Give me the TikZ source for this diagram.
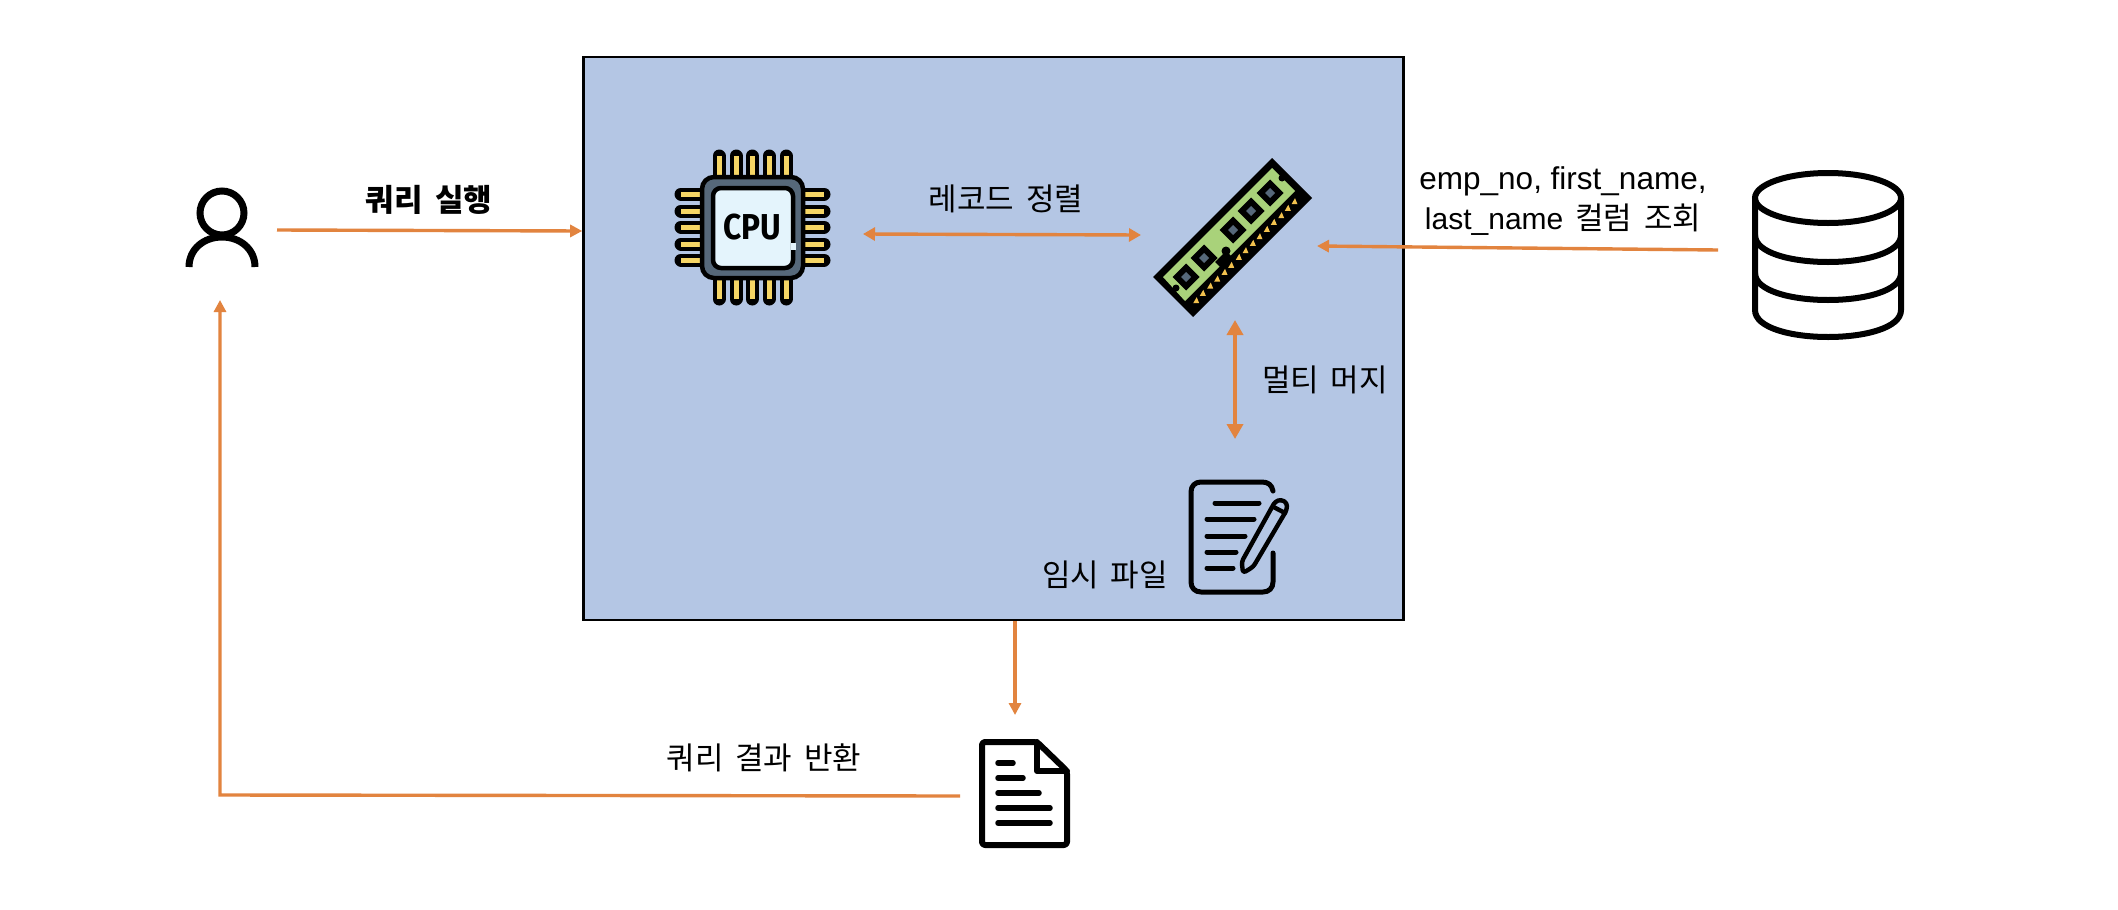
\documentclass[tikz,border=0pt]{standalone}
\usepackage{fontspec}
\setmainfont[WordSpace=1.7]{Noto Sans CJK KR}
\newfontfamily\cpufont[FakeStretch=0.88]{Fira Sans}
\newfontfamily\latinfont{Liberation Sans}
\usetikzlibrary{arrows.meta}
\definecolor{flow}{HTML}{E2843F}
\definecolor{boxfill}{HTML}{B4C6E4}
\definecolor{pinyellow}{HTML}{F5D565}
\definecolor{chipslate}{HTML}{56687A}
\definecolor{chipface}{HTML}{E4F4FC}
\definecolor{ramgreen}{HTML}{A9D27A}
\definecolor{ramgold}{HTML}{F2C14E}
\tikzset{
  x=1pt,y=-1pt,
  flowline/.style={draw=flow,line width=3.4pt,-{Triangle[length=12pt,width=12pt]}},
  flowboth/.style={draw=flow,line width=3.4pt,{Triangle[length=12pt,width=13pt]}-{Triangle[length=12pt,width=13pt]}},
  flowbig/.style={draw=flow,line width=3.6pt,{Triangle[length=15pt,width=16pt]}-{Triangle[length=15pt,width=16pt]}},
  iconspot/.style={inner sep=0pt,outer sep=0pt,minimum width=#1},
  lbl/.style={inner sep=0pt,align=center,font=\fontsize{31}{39}\selectfont},
  ink/.style={draw=black,line width=#1,line cap=round,line join=round},
  pin/.style={draw=black,line width=13pt,line cap=round},
  pinin/.style={draw=pinyellow,line width=5pt},
}
\begin{document}
\begin{tikzpicture}
\useasboundingbox (0,0) rectangle (2118,910);
\fill[white] (0,0) rectangle (2118,910);

% main box
\node[draw=black,line width=2.6pt,fill=boxfill,inner sep=0pt,minimum width=820pt,minimum height=563pt] (box) at (993.5,338.5) {};

% anchor nodes of the icons
\node[iconspot=120pt,minimum height=140pt] (user) at (217,230) {};
\node[iconspot=222pt,minimum height=170pt] (cpu) at (752,235) {};
\node[iconspot=176pt,minimum height=170pt] (ram) at (1229,235) {};
\node[iconspot=100pt,minimum height=116pt] (tmp) at (1235,497) {};
\node[iconspot=110pt,minimum height=160pt] (doc) at (1015,795) {};
\node[iconspot=36pt,minimum height=166pt] (db) at (1736,253) {};

% user
\draw[black,line width=7pt] (222,213) circle[radius=22pt];
\draw[black,line width=7pt] (189,267) .. controls (189,249) and (204,237) .. (222,237) .. controls (240,237) and (255,249) .. (255,267);

% CPU
\foreach \p in {719,736,752,769,786}{
  \draw[pin] (\p,156) -- (\p,178);
  \draw[pin] (\p,299) -- (\p,277);
  \draw[pinin] (\p,156) -- (\p,178);
  \draw[pinin] (\p,299) -- (\p,277);
}
\foreach \p in {194,211,227,244,260}{
  \draw[pin] (681,\p) -- (703,\p);
  \draw[pin] (824,\p) -- (802,\p);
  \draw[pinin] (681,\p) -- (703,\p);
  \draw[pinin] (824,\p) -- (802,\p);
}
\draw[black,line width=4.5pt,fill=chipslate,rounded corners=12pt] (702,177) rectangle (803,278);
\draw[black,line width=4.5pt,fill=chipface,rounded corners=8pt] (713,188) rectangle (793,268);
\fill[chipface] (790.5,243) rectangle (795.5,250);
\node[inner sep=0pt,font=\cpufont\bfseries\fontsize{36}{36}\selectfont] (cpulabel) at (752.5,227) {CPU};

% RAM
\fill[black] (1272,158) -- (1312,198) -- (1193,317) -- (1153,277) -- cycle;
\fill[ramgreen] (1272,168) -- (1295,191) -- (1185,301) -- (1163,277) -- cycle;
\fill[black] (1282,178) circle[radius=3.5pt] (1176,288) circle[radius=3.5pt] (1226,251) circle[radius=4.5pt];
\fill[black] (1226,251) -- (1233,258) -- (1222,269) -- (1215,262) -- cycle;
\foreach \cx/\cy in {1270/193,1251/211,1233/230,1204/258,1186/277}{
  \fill[black] (\cx,\cy-13.5) -- (\cx+13.5,\cy) -- (\cx,\cy+13.5) -- (\cx-13.5,\cy) -- cycle;
  \fill[chipslate] (\cx,\cy-5) -- (\cx+5,\cy) -- (\cx,\cy+5) -- (\cx-5,\cy) -- cycle;
}
\foreach \tx/\ty in {1295/201.7,1288.3/208.3,1281.7/215.7,1274.3/222.3,1267.3/229.3,1260/236.7,1253.3/243.3,1246/250.7,1239.3/257.3,1231.7/265.3,1225/272.3,1217.7/279,1210.7/286,1203.3/293.3,1196.7/300.7}{
  \fill[ramgold] (\tx,\ty-3.5) -- (\tx+2.5,\ty+2.5) -- (\tx-3.5,\ty+2.5) -- cycle;
}

% temporary file
\draw[ink=5pt] (1273,491) .. controls (1272,485) and (1268,482) .. (1262,482) -- (1201,482) .. controls (1195,482) and (1191,486) .. (1191,492) -- (1191,582) .. controls (1191,588) and (1195,592) .. (1201,592) -- (1263,592) .. controls (1269,592) and (1273,588) .. (1273,582) -- (1273,553);
\foreach \xa/\xb/\yy in {1215/1259/503,1207/1254/519,1207/1245/536,1207/1236/552,1207/1233/568}{
  \draw[ink=5pt] (\xa,\yy) -- (\xb,\yy);
}
\draw[ink=4.4pt,rounded corners=3pt] (1243,573) -- (1241.7,561.7) -- (1275,501.7) -- (1281,499.5) -- (1287,503) -- (1286.7,510) -- (1253.3,566.7) -- cycle;
\draw[ink=4.4pt] (1273,506.7) -- (1285,513);

% result document
\draw[ink=6pt,rounded corners=3pt] (1037,742) -- (982,742) -- (982,845) -- (1067,845) -- (1067,771) -- cycle;
\draw[ink=6pt] (1037,742) -- (1037,771) -- (1067,771);
\foreach \xa/\xb/\yy in {998/1013/763,998/1023/778,998/1039/793,998/1050/808,998/1050/823}{
  \draw[ink=5.5pt] (\xa,\yy) -- (\xb,\yy);
}

% database
\draw[black,line width=6pt] (1828,198) ellipse[x radius=73pt,y radius=25pt];
\draw[black,line width=6pt] (1755,198) -- (1755,310) .. controls (1755,346) and (1901,346) .. (1901,310) -- (1901,198);
\draw[black,line width=6pt] (1755,235) .. controls (1755,271) and (1901,271) .. (1901,235);
\draw[black,line width=6pt] (1755,273) .. controls (1755,309) and (1901,309) .. (1901,273);

% connectors
\draw[flowline] (user.east) -- ([yshift=-1pt]box.west |- user.east);
\draw[flowboth] (cpu.east |- 0,234) -- ([yshift=-1pt]ram.west |- 0,234);
\draw[flowline] ([yshift=3pt]db.west) -- ([yshift=-11pt]ram.east);
\draw[flowbig] ([xshift=6pt]ram.south) -- ([xshift=6pt]tmp.north -| ram.south);
\draw[flowline] (box.south -| doc.north) -- (doc.north);
\draw[flowline] ([yshift=-1pt]doc.west) -- (220,795) -- ([xshift=3pt]user.south);

% labels
\node[lbl,font=\bfseries\fontsize{31}{39}\selectfont] (l1) at (429,200) {쿼리 실행};
\node[lbl] (l2) at (1006,199) {레코드 정렬};
\node[lbl,font=\fontsize{31}{40}\selectfont] (l3) at (1563,201) {{\latinfont\fontsize{31.5}{40}\selectfont emp\_no, first\_name,}\\{\latinfont\fontsize{30}{40}\selectfont last\_name} 컬럼 조회};
\node[lbl] (l4) at (1325,380) {멀티 머지};
\node[lbl] (l5) at (1105,575) {임시 파일};
\node[lbl] (l6) at (764,758) {쿼리 결과 반환};
\end{tikzpicture}
\end{document}
